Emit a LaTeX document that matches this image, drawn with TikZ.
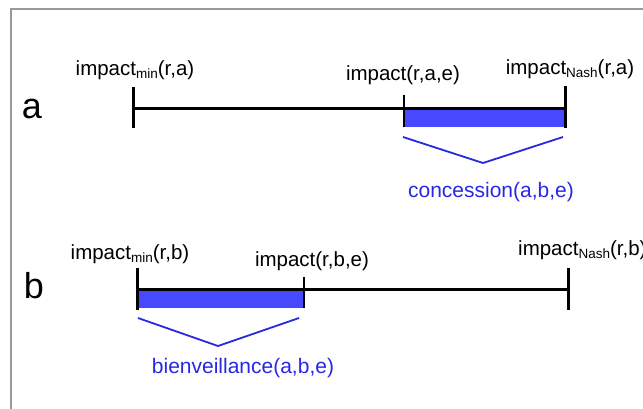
\documentclass[tikz,border=0pt]{standalone}
\usepackage{fontspec}
\setmainfont{Liberation Sans}
\definecolor{barblue}{RGB}{72,72,255}
\definecolor{txtblue}{RGB}{40,40,225}
\newcommand\lowsub[1]{\raisebox{-0.32ex}{\fontsize{13.5pt}{14pt}\selectfont #1}}
\tikzset{
  lbl/.style={font=\fontsize{20.5pt}{24pt}\selectfont, inner sep=0pt, anchor=base},
  bluelbl/.style={lbl, font=\fontsize{21pt}{24pt}\selectfont, text=txtblue},
  bigl/.style={font=\fontsize{36pt}{40pt}\selectfont, inner sep=0pt, anchor=base},
  axisline/.style={line width=3pt},
  endtick/.style={line width=3pt},
  midtick/.style={line width=1.8pt},
  bar/.style={fill=barblue},
  brace/.style={draw=txtblue, line width=1.8pt},
}
\begin{document}
\begin{tikzpicture}[x=1pt,y=-1pt]
\useasboundingbox (0,0) rectangle (643,408);
\clip (0,0) rectangle (643,408);
\draw[gray!80, line width=1.5pt] (11,410) -- (11,9) -- (645,9);

% ---- row a ----
\node[bigl] (la) at (32,118) {a};
\coordinate (aL) at (133,108);
\coordinate (aM) at (404,108);
\coordinate (aR) at (565,108);
\fill[bar] (404,108) rectangle (564,127);
\draw[axisline] (aL) -- (aR);
\coordinate (aLt) at (133,87);  \coordinate (aLb) at (133,128);
\coordinate (aMt) at (404,95);  \coordinate (aMb) at (404,127);
\coordinate (aRt) at (565,86);  \coordinate (aRb) at (565,128);
\draw[endtick] (aLt) -- (aLb);
\draw[midtick] (aMt) -- (aMb);
\draw[endtick] (aRt) -- (aRb);
\node[lbl] (tminA) at (135,75) {impact\lowsub{min}(r,a)};
\node[lbl] (tA) at (403,80) {impact(r,a,e)};
\node[lbl] (tnashA) at (570,74) {impact\lowsub{Nash}(r,a)};
\coordinate (ba1) at (403,137);
\coordinate (ba2) at (483,163);
\coordinate (ba3) at (563,137);
\draw[brace] (ba1) -- (ba2) -- (ba3);
\node[bluelbl] (conc) at (491,197) {concession(a,b,e)};

% ---- row b ----
\node[bigl] (lb) at (34,298) {b};
\coordinate (bL) at (137,289);
\coordinate (bM) at (304,289);
\coordinate (bR) at (568,289);
\fill[bar] (137,289) rectangle (303,308);
\draw[axisline] (bL) -- (bR);
\coordinate (bLt) at (137,268); \coordinate (bLb) at (137,310);
\coordinate (bMt) at (304,277); \coordinate (bMb) at (304,308);
\coordinate (bRt) at (568,268); \coordinate (bRb) at (568,310);
\draw[endtick] (bLt) -- (bLb);
\draw[midtick] (bMt) -- (bMb);
\draw[endtick] (bRt) -- (bRb);
\node[lbl] (tminB) at (130,259) {impact\lowsub{min}(r,b)};
\node[lbl] (tB) at (312,266) {impact(r,b,e)};
\node[lbl, anchor=base west] (tnashB) at (518,255) {impact\lowsub{Nash}(r,b)};
\coordinate (bb1) at (138,318);
\coordinate (bb2) at (218,346);
\coordinate (bb3) at (299,318);
\draw[brace] (bb1) -- (bb2) -- (bb3);
\node[bluelbl] (bien) at (243,373) {bienveillance(a,b,e)};
\end{tikzpicture}
\end{document}
